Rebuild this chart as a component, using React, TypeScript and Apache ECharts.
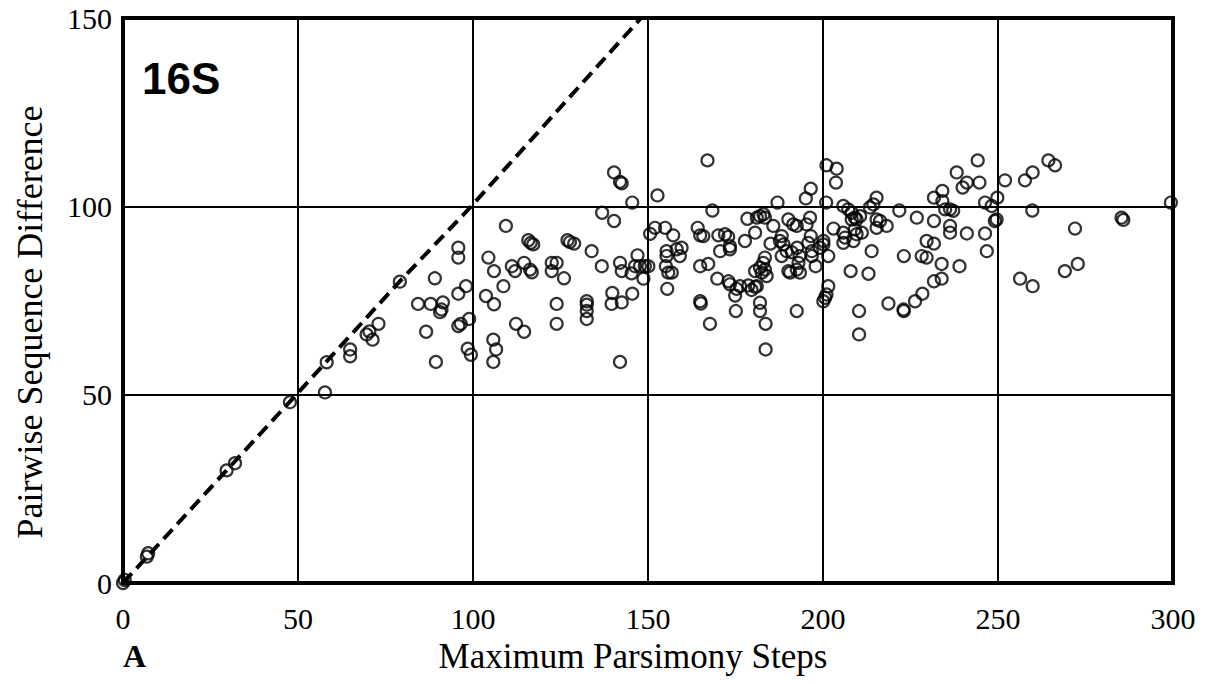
import React, { useEffect, useRef } from "react";
import * as echarts from "echarts";

// Tick values
const xTicks = [0, 50, 100, 150, 200, 250, 300];
const yTicks = [0, 50, 100, 150];

// Dashed reference line
const dashLine: [number, number][] = [
  [0, 0], [49.5, 50], [79, 80], [99, 99.5], [148, 150],
];

// Scatter points: [Maximum Parsimony Steps, Pairwise Sequence Difference]
const lowPoints: [number, number][] = [
  [0, 0], [0.5, 0.8], [6.8, 7.0], [7.2, 7.9], [29.6, 29.9], [32, 31.8], [47.7, 48.0],
  [57.7, 50.6], [58.2, 58.6], [64.9, 62.0], [64.9, 60.2], [69.6, 66.0], [71.3, 64.6],
  [73, 68.8], [70.4, 66.8], [79.1, 80.0], [89.1, 80.9], [84.3, 74.1], [87.9, 74.1],
  [91.4, 74.5], [91, 72.6], [90.6, 71.9], [86.6, 66.7], [89.4, 58.7], [95.8, 89.0],
  [95.8, 86.4], [95.8, 76.8], [98, 78.8], [95.8, 68.2], [96.5, 68.8], [98.9, 70.1],
  [98.5, 62.2], [99.4, 60.6],
];

const midPoints: [number, number][] = [
  [104.4, 86.4], [106, 82.8], [109.4, 94.8], [108.7, 78.8], [103.7, 76.2], [106, 74.0],
  [105.8, 64.6], [106.6, 62.0], [105.8, 58.7], [111.1, 84.1], [112, 82.8], [114.6, 85.0],
  [116.3, 83.2], [116.8, 82.5], [112.3, 68.8], [114.6, 66.7], [115.8, 91.0], [116.5, 90.3],
  [117.2, 89.9], [122.5, 85.0], [123.9, 85.0], [122.5, 82.8], [126, 80.9], [123.9, 74.1],
  [123.9, 68.8], [127, 91.0], [127.7, 90.5], [128.9, 90.1], [132.5, 74.8], [132.5, 73.9],
  [132.5, 72.2], [132.5, 70.1], [133.9, 88.1], [136.8, 84.1], [136.9, 98.3], [140.3, 96.1],
  [140.3, 109.0], [142, 106.5], [142.5, 106.1], [145.5, 101.0], [139.8, 77.0], [139.6, 74.1],
  [142.5, 74.5], [145.5, 76.8], [142, 85.0], [142.5, 82.8], [145.3, 82.2], [147, 87.0],
  [142, 58.7], [146.3, 84.1], [147.7, 84.1], [149.1, 84.1], [150.1, 84.1], [148.7, 80.8],
  [152.7, 102.9], [150.6, 92.7], [152, 94.3], [154.9, 94.3], [157.2, 92.3], [155.3, 88.1],
  [155.3, 86.8], [155.1, 84.1], [155.8, 82.4], [156.8, 82.4], [158.2, 88.6], [159.6, 89.0],
  [159.1, 86.8], [155.5, 78.1], [167, 112.2], [168.4, 98.9], [164.2, 94.3], [164.9, 92.3],
  [165.8, 92.1], [164.9, 84.1], [167.2, 84.7], [164.9, 74.8], [165.1, 74.2], [167.7, 68.8],
  [170.1, 92.3], [172, 92.6], [172.9, 91.9], [173.4, 89.4], [173.4, 88.6], [170.6, 88.1],
  [177.7, 90.8], [169.8, 80.8], [173, 80.1], [173.4, 79.3], [175.3, 78.1], [174.9, 76.3],
  [178.7, 79.0], [179.6, 77.8], [180.6, 78.6], [181.1, 78.8], [176.3, 78.8], [175.1, 72.2],
  [178.4, 96.7], [181.1, 97.0], [182, 97.4], [183, 97.9], [183.4, 97.0], [180.6, 93.0],
  [187, 101.0], [185, 90.1], [180.6, 82.8], [182.5, 82.4], [183.4, 83.2], [183.9, 81.5],
  [183.4, 86.4], [182, 83.7], [182.9, 85.0], [182, 74.4], [182, 72.2], [183.6, 68.8],
  [183.6, 62.0], [185.8, 94.8], [188.2, 92.1], [187.7, 90.8], [188.7, 89.9], [189.6, 88.1],
  [188.2, 86.8], [190.1, 96.5], [191.5, 95.2], [192.5, 94.8], [190.1, 82.8], [190.6, 82.4],
  [192.5, 83.2], [192.5, 72.2], [191.1, 87.8], [192.6, 89.0], [193.3, 86.8], [195.3, 95.2],
  [196.3, 97.0], [193, 85.0], [193.4, 82.4],
];

const highPoints: [number, number][] = [
  [201, 110.9], [203.9, 110.0], [203.7, 106.3], [196.5, 104.7], [195.1, 102.1], [200.9, 101.0],
  [205.8, 100.1], [207.2, 99.2], [208.2, 98.3], [209.1, 97.0], [210.6, 97.4], [208.2, 96.5],
  [209.6, 96.5], [215.3, 102.3], [214.4, 100.5], [213.4, 99.7], [215.3, 96.5], [216.3, 96.1],
  [218.2, 94.8], [215.3, 94.3], [221.8, 98.9], [226.8, 97.0], [203, 94.1], [205.8, 93.0],
  [206.3, 91.7], [205.8, 90.3], [208.7, 90.8], [209.6, 92.6], [211.1, 93.0], [209.1, 93.9],
  [200.1, 90.8], [200.1, 89.9], [199.1, 89.0], [201.5, 86.8], [196.5, 92.1], [196.8, 86.8],
  [197.9, 84.1], [195.8, 90.3], [196.8, 88.1], [213.9, 88.1], [207.9, 82.8], [213, 82.1],
  [201.5, 78.8], [201, 76.6], [200.1, 74.8], [200.6, 75.7], [210.3, 72.2], [210.3, 66.0],
  [218.7, 74.2], [223, 72.6], [223.1, 72.2], [226.3, 74.8], [228.4, 76.8], [223.1, 86.8],
  [228.2, 86.8], [229.6, 86.4], [229.6, 90.8], [231.7, 90.1], [231.7, 96.1], [231.7, 102.3],
  [234.1, 104.1], [234.1, 101.4], [234.9, 99.2], [236.3, 99.2], [237.2, 98.8], [236.3, 94.8],
  [236.3, 93.0], [238.2, 109.0], [239.9, 105.0], [241.1, 106.3], [244.2, 112.2], [244.7, 106.3],
  [241.1, 92.8], [246.3, 92.8], [246.8, 88.1], [233.9, 84.7], [239, 84.1], [233.9, 80.8],
  [231.7, 80.1], [246.3, 101.0], [248.2, 100.1], [249.8, 102.3], [249.6, 96.5], [249.1, 96.1],
  [252, 106.9], [257.7, 106.9], [259.9, 109.0], [259.8, 98.9], [264.4, 112.2], [266.3, 110.9],
  [256.3, 80.8], [259.9, 78.8], [272, 94.1], [269.1, 82.8], [272.8, 84.7], [285.3, 97.0],
  [285.8, 96.4], [299.4, 101.0],
];

const scatterData = [...lowPoints, ...midPoints, ...highPoints];

const SERIF = "'Liberation Serif', 'Times New Roman', serif";

export default function App() {
  const ref = useRef<HTMLDivElement>(null);
  useEffect(() => {
    if (!ref.current) return;
    const chart = echarts.init(ref.current, undefined, { renderer: "svg" });
    chart.setOption({
      animation: false,
      backgroundColor: "#ffffff",
      grid: {
        left: 123,
        right: 39,
        top: 18,
        bottom: 101,
        show: true,
        borderColor: "#000",
        borderWidth: 4,
        backgroundColor: "transparent",
        z: 3,
      },
      xAxis: {
        type: "value",
        min: xTicks[0],
        max: xTicks[xTicks.length - 1],
        interval: 50,
        axisLine: { show: false },
        axisTick: { show: false },
        splitLine: { show: true, lineStyle: { color: "#000", width: 2 } },
        axisLabel: {
          color: "#000",
          fontFamily: SERIF,
          fontSize: 30,
          margin: 20,
        },
      },
      yAxis: {
        type: "value",
        min: yTicks[0],
        max: yTicks[yTicks.length - 1],
        interval: 50,
        axisLine: { show: false },
        axisTick: { show: false },
        splitLine: { show: true, lineStyle: { color: "#000", width: 2 } },
        axisLabel: {
          color: "#000",
          fontFamily: SERIF,
          fontSize: 30,
          margin: 11,
        },
      },
      graphic: [
        {
          type: "text",
          left: 142,
          top: 56,
          style: {
            text: "16S",
            font: "bold 44px 'Liberation Sans', Arial, sans-serif",
            fill: "#000",
          },
        },
        {
          type: "text",
          x: 633,
          y: 656,
          style: {
            text: "Maximum Parsimony Steps",
            font: `35px ${SERIF}`,
            fill: "#000",
            textAlign: "center",
            textVerticalAlign: "middle",
          },
        },
        {
          type: "text",
          x: 123,
          y: 656,
          style: {
            text: "A",
            font: `bold 32px ${SERIF}`,
            fill: "#000",
            textAlign: "left",
            textVerticalAlign: "middle",
          },
        },
        {
          type: "text",
          x: 30,
          y: 322,
          rotation: Math.PI / 2,
          style: {
            text: "Pairwise Sequence Difference",
            font: `36px ${SERIF}`,
            fill: "#000",
            textAlign: "center",
            textVerticalAlign: "middle",
          },
        },
      ],
      series: [
        {
          type: "line",
          data: dashLine,
          symbol: "none",
          lineStyle: { color: "#000", width: 4, type: [13, 7] },
          z: 2,
        },
        {
          type: "scatter",
          data: scatterData,
          symbol: "circle",
          symbolSize: 12,
          itemStyle: {
            color: "rgba(0,0,0,0)",
            borderColor: "#000",
            borderWidth: 2.2,
          },
          z: 4,
        },
      ],
    });
    return () => chart.dispose();
  }, []);
  return <div ref={ref} style={{ width: 1212, height: 684, margin: -8 }} />;
}
